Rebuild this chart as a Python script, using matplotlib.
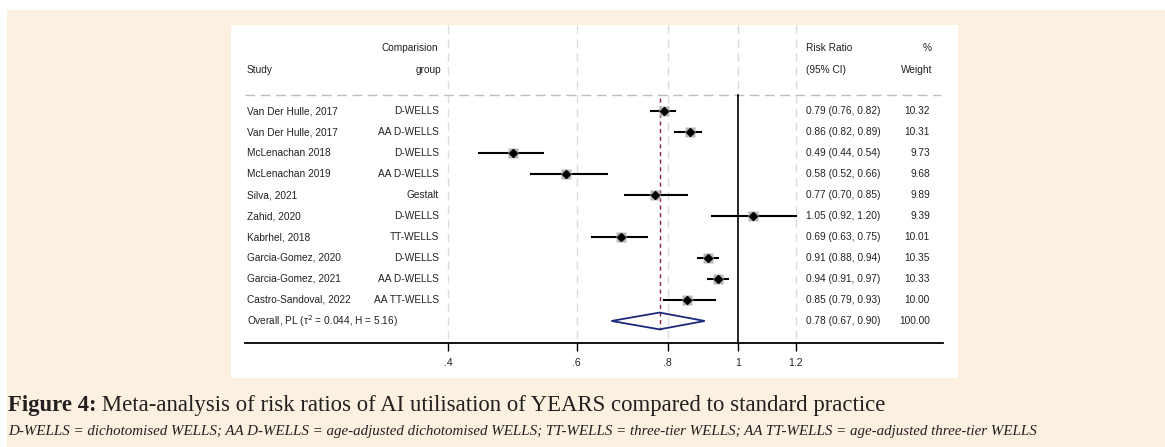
import matplotlib
matplotlib.use("Agg")
import matplotlib.pyplot as plt
from matplotlib.patches import Rectangle, Polygon
from matplotlib.transforms import blended_transform_factory

# ---- data ---------------------------------------------------------------
studies = ["Van Der Hulle, 2017", "Van Der Hulle, 2017", "McLenachan 2018",
           "McLenachan 2019", "Silva, 2021", "Zahid, 2020", "Kabrhel, 2018",
           "Garcia-Gomez, 2020", "Garcia-Gomez, 2021", "Castro-Sandoval, 2022"]
groups = ["D-WELLS", "AA D-WELLS", "D-WELLS", "AA D-WELLS", "Gestalt",
          "D-WELLS", "TT-WELLS", "D-WELLS", "AA D-WELLS", "AA TT-WELLS"]
rr = [0.79, 0.86, 0.49, 0.58, 0.77, 1.05, 0.69, 0.91, 0.94, 0.85]
ci_lo = [0.76, 0.82, 0.44, 0.52, 0.70, 0.92, 0.63, 0.88, 0.91, 0.79]
ci_hi = [0.82, 0.89, 0.54, 0.66, 0.85, 1.20, 0.75, 0.94, 0.97, 0.93]
weights = [10.32, 10.31, 9.73, 9.68, 9.89, 9.39, 10.01, 10.35, 10.33, 10.00]

overall_label = "Overall, PL (τ$^2$ = 0.044, H = 5.16)"
overall = (0.78, 0.67, 0.90)
overall_weight = 100.00

xticks = [0.4, 0.6, 0.8, 1.0, 1.2]
xtick_labels = [".4", ".6", ".8", "1", "1.2"]

caption_bold = "Figure 4:"
caption_main = " Meta-analysis of risk ratios of AI utilisation of YEARS compared to standard practice"
caption_note = ("D-WELLS = dichotomised WELLS; AA D-WELLS = age-adjusted dichotomised WELLS; "
                "TT-WELLS = three-tier WELLS; AA TT-WELLS = age-adjusted three-tier WELLS")

W, H = 1165, 447
CREAM = "#FCF1E1"
TXT = "#222222"
plt.rcParams["font.family"] = ["Liberation Sans", "DejaVu Sans"]


def fx(px):
    return px / W


def fy(py):
    return 1 - py / H


fig = plt.figure(figsize=(W / 100, H / 100), dpi=100, facecolor="white")

# page background + white figure panel
fig.patches.append(Rectangle((fx(7), 0), 1, fy(10), transform=fig.transFigure,
                             facecolor=CREAM, edgecolor="none", zorder=-2))
fig.patches.append(Rectangle((fx(231), fy(378)), fx(958 - 231), (378 - 25) / H,
                             transform=fig.transFigure, facecolor="white",
                             edgecolor="none", zorder=-1))

# ---- forest axes ---------------------------------------------------------
ax = fig.add_axes([fx(245), fy(343), fx(943 - 245), (343 - 25) / H])
ax.set_facecolor("none")
ax.set_xscale("log")
ax.set_xlim(0.2101, 1.913)
k_bottom, k_top = 11.05, -4.1
ax.set_ylim(k_bottom, k_top)
for side in ("top", "left", "right"):
    ax.spines[side].set_visible(False)
ax.spines["bottom"].set_linewidth(1.3)
ax.set_yticks([])
ax.set_xticks(xticks)
ax.set_xticklabels(xtick_labels)
ax.xaxis.set_minor_locator(matplotlib.ticker.NullLocator())
ax.tick_params(axis="x", length=6, width=1.0, pad=5, labelsize=7.5,
               labelcolor=TXT)

sep_k = -0.76
n = len(studies)

# vertical reference lines
for xv in xticks:
    if xv == 1.0:
        ax.plot([xv, xv], [k_top, sep_k], color="#D9D9D9", lw=1.0,
                ls=(0, (6, 4)), zorder=1)
        ax.plot([xv, xv], [sep_k, k_bottom], color="black", lw=1.2, zorder=2)
    else:
        ax.plot([xv, xv], [k_top, k_bottom], color="#DCDCDC", lw=1.0,
                ls=(0, (6, 4)), zorder=1)

# separator under the header
ax.plot([0.2101, 1.9], [sep_k, sep_k], color="#BDBDBD", lw=1.0,
        ls=(0, (7, 4)), zorder=1)

# overall estimate line
ax.plot([overall[0], overall[0]], [sep_k + 0.15, n + 0.43], color="#8B2232",
        lw=1.0, ls=(0, (3, 2.5)), zorder=3)

# study estimates
for i in range(n):
    ax.plot([ci_lo[i], ci_hi[i]], [i, i], color="black", lw=1.5, zorder=4)
    ax.plot(rr[i], i, marker="s", ms=7.5 * (weights[i] / 10.3) ** 0.5,
            color="#B8B8B8", mec="none", zorder=5)
    ax.plot(rr[i], i, marker="D", ms=4.2, color="black", zorder=6)

# overall diamond
est, lo, hi = overall
ax.add_patch(Polygon([(lo, n), (est, n - 0.4), (hi, n), (est, n + 0.4)],
                     closed=True, facecolor="none", edgecolor="#1B2A7B",
                     lw=1.3, zorder=5))

# ---- text columns --------------------------------------------------------
tr = blended_transform_factory(fig.transFigure, ax.transData)
fs = 7.3
kw = dict(transform=tr, fontsize=fs, color=TXT, va="center")

ax.text(fx(438), -3.0, "Comparision", ha="right", **kw)
ax.text(fx(247), -1.95, "Study", ha="left", **kw)
ax.text(fx(441), -1.95, "group", ha="right", **kw)
ax.text(fx(806), -3.0, "Risk Ratio", ha="left", **kw)
ax.text(fx(806), -1.95, "(95% CI)", ha="left", **kw)
ax.text(fx(932), -3.0, "%", ha="right", **kw)
ax.text(fx(932), -1.95, "Weight", ha="right", **kw)

for i in range(n):
    ax.text(fx(247), i, studies[i], ha="left", **kw)
    ax.text(fx(439), i, groups[i], ha="right", **kw)
    ax.text(fx(806), i, f"{rr[i]:.2f} ({ci_lo[i]:.2f}, {ci_hi[i]:.2f})",
            ha="left", **kw)
    ax.text(fx(930), i, f"{weights[i]:.2f}", ha="right", **kw)

ax.text(fx(247), n, overall_label, ha="left", **kw)
ax.text(fx(806), n, f"{est:.2f} ({lo:.2f}, {hi:.2f})", ha="left", **kw)
ax.text(fx(930), n, f"{overall_weight:.2f}", ha="right", **kw)

# ---- caption -------------------------------------------------------------
serif = ["Liberation Serif", "DejaVu Serif"]
t1 = fig.text(fx(8), fy(405), caption_bold, fontsize=16.4, fontweight="bold",
              family=serif, color="#231F20", va="center", ha="left")
renderer = fig.canvas.get_renderer()
bb = t1.get_window_extent(renderer)
fig.text(bb.x1 / W, fy(405), caption_main, fontsize=16.4, family=serif,
         color="#231F20", va="center", ha="left")
fig.text(fx(8), fy(431), caption_note, fontsize=10.85, family=serif,
         style="italic", color="#231F20", va="center", ha="left")

fig.savefig("out.png", dpi=100, facecolor="white")
